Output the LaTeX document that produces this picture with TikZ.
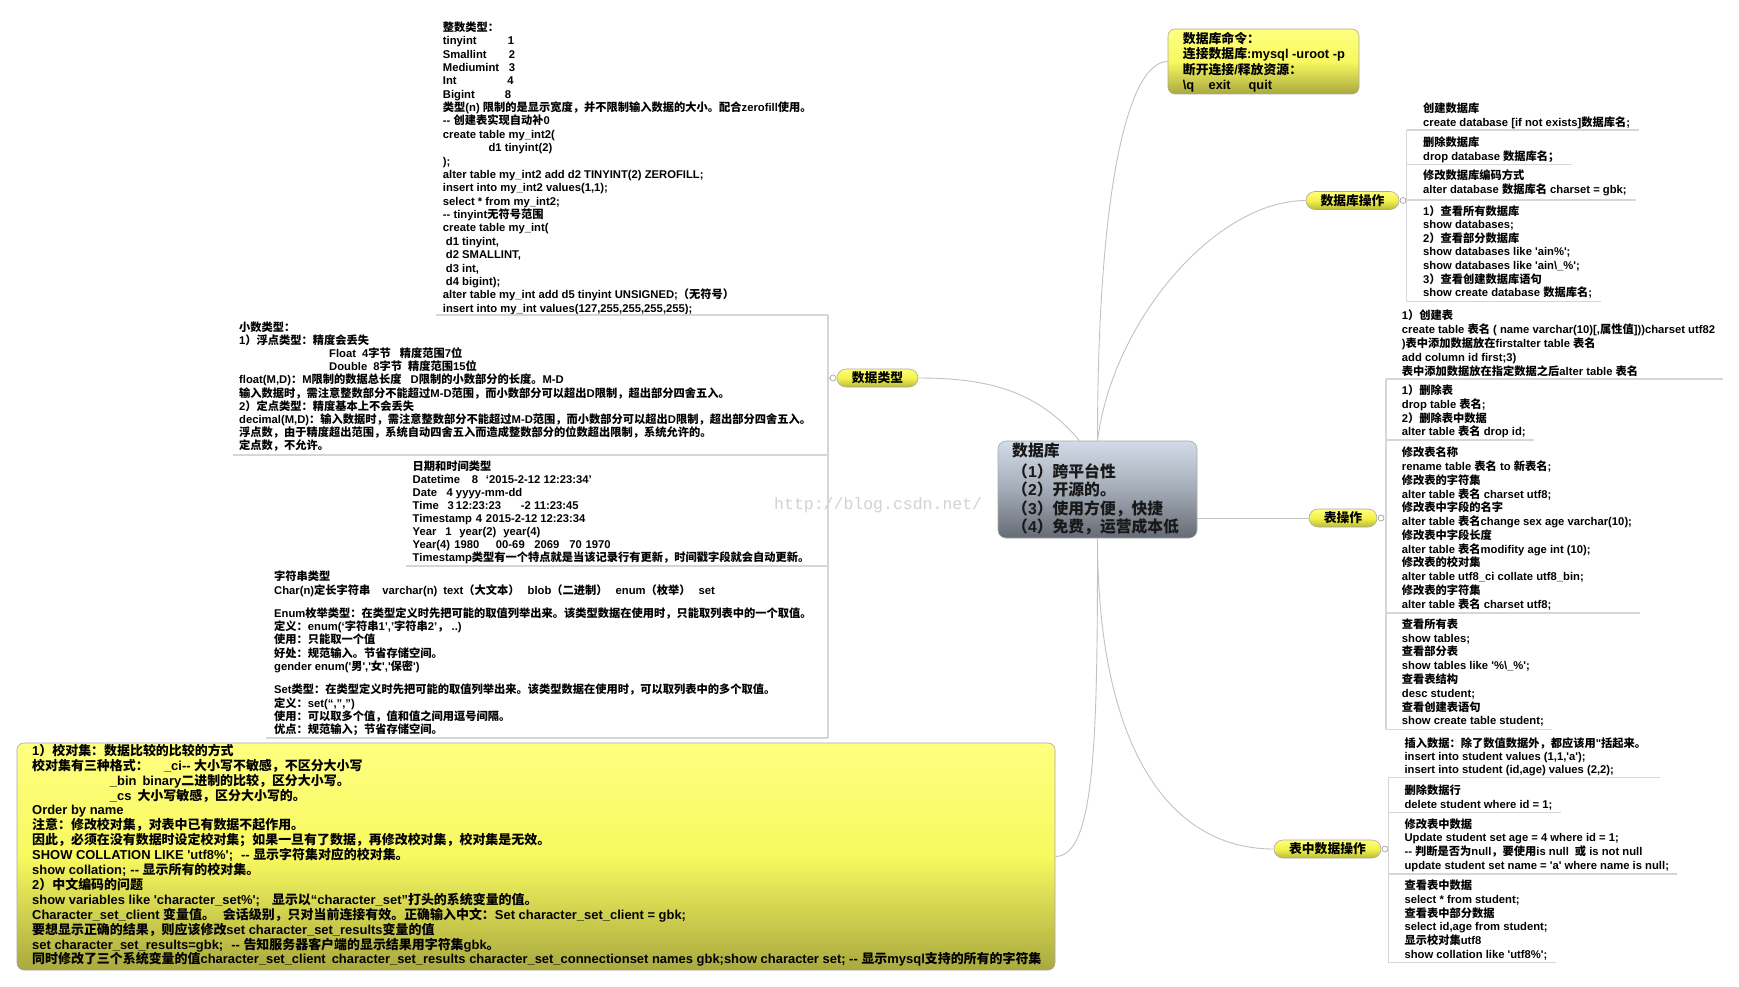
\documentclass[tikz,border=0pt]{standalone}
\usepackage{fontspec}
\setmainfont{Liberation Sans}[Ligatures=TeXOff]
\newfontfamily\cjkfont{Noto Sans CJK SC}
\newfontfamily\wmfont{Liberation Mono}
\XeTeXinterchartokenstate=1
\newXeTeXintercharclass\CJKcls
\newcount\cjkc
\cjkc="4E00 \loop \XeTeXcharclass\cjkc=\CJKcls \advance\cjkc by 1 \ifnum\cjkc<"A000 \repeat
\cjkc="3000 \loop \XeTeXcharclass\cjkc=\CJKcls \advance\cjkc by 1 \ifnum\cjkc<"3040 \repeat
\cjkc="FF00 \loop \XeTeXcharclass\cjkc=\CJKcls \advance\cjkc by 1 \ifnum\cjkc<"FFF0 \repeat
\XeTeXinterchartoks 0 \CJKcls = {\begingroup\cjkfont}
\XeTeXinterchartoks 4095 \CJKcls = {\begingroup\cjkfont}
\XeTeXinterchartoks \CJKcls 0 = {\endgroup}
\XeTeXinterchartoks \CJKcls 4095 = {\endgroup}
\newcommand\lns[1]{\vtop{\halign{##\hfil\cr#1\crcr}}}
\newcommand\tb[2]{\rlap{\hspace*{#1}#2}}
\newcommand\gap[1]{\noalign{\vskip#1}}
\newcommand\bsl{\textbackslash}
\definecolor{connGray}{HTML}{C2C2C2}
\definecolor{ulGray}{HTML}{D6D6D6}
\definecolor{pillTop}{HTML}{FFFF78}
\definecolor{pillMid}{HTML}{F2F24E}
\definecolor{pillBot}{HTML}{BBBB35}
\definecolor{boxTop}{HTML}{FFFF80}
\definecolor{boxMid}{HTML}{F8F860}
\definecolor{boxBot}{HTML}{A9A93F}
\definecolor{cenTop}{HTML}{D2DCE8}
\definecolor{cenMid}{HTML}{A3ABB6}
\definecolor{cenBot}{HTML}{656B75}
\definecolor{edgeGray}{HTML}{A8A8A8}
\definecolor{wmGray}{HTML}{D2D2D2}
\tikzset{
  blk/.style={anchor=base west, inner sep=0pt, text=black},
  f11/.style={font=\fontsize{11.25}{#1}\selectfont\bfseries},
  pill/.style={draw=edgeGray, line width=0.6pt, rounded corners=9pt,
    top color=pillTop, bottom color=pillBot, middle color=pillMid,
    minimum height=18pt, inner sep=0pt, text=black,
    font=\fontsize{12.8}{14}\selectfont\bfseries},
  ybox/.style={draw=edgeGray, line width=0.6pt, rounded corners=7pt,
    top color=boxTop, bottom color=boxBot, middle color=boxMid, inner sep=0pt},
  dotc/.style={circle, draw=gray!80, fill=white, line width=0.6pt, minimum size=6pt, inner sep=0pt},
  conn/.style={draw=connGray, line width=0.9pt},
  uline/.style={draw=ulGray, line width=1.3pt},
}
\begin{document}
\begin{tikzpicture}[x=1pt,y=-1pt]
\useasboundingbox (0,0) rectangle (1739,987);
\fill[white] (0,0) rectangle (1739,987);

% ---------- central node ----------
\node[draw=edgeGray, line width=0.6pt, rounded corners=8pt, top color=cenTop, bottom color=cenBot, middle color=cenMid,
  minimum width=199pt, minimum height=97pt, inner sep=0pt] (db) at (1097.5,489.5) {};
\node[blk, font=\fontsize{15.8}{18.3}\selectfont\bfseries, text=black!90] (dbTxt) at (1012,456.6)
 {\lns{数据库\cr\gap{2.7pt}（1）跨平台性\cr（2）开源的。\cr（3）使用方便，快捷\cr（4）免费，运营成本低}};

% ---------- watermark ----------
\node[anchor=base west, inner sep=0pt, text=wmGray, font=\fontsize{16.5}{18}\wmfont] (wm) at (774,509) {http://blog.csdn.net/};

% ---------- labels ----------
\node[pill, minimum width=81pt] (typeLbl) at (877.5,378) {数据类型};
\node[pill, minimum width=93pt] (dbopsLbl) at (1352.5,200.5) {数据库操作};
\node[pill, minimum width=68pt] (tblLbl) at (1343,518) {表操作};
\node[pill, minimum width=107pt] (dataLbl) at (1327.5,849) {表中数据操作};
\node[dotc] (typeDot) at (833,378) {};
\node[dotc] (dbopsDot) at (1403,200.5) {};
\node[dotc] (tblDot) at (1381,518) {};
\node[dotc] (dataDot) at (1385,849) {};

% ---------- command box ----------
\node[ybox, minimum width=191pt, minimum height=65pt] (cmdBox) at (1263.5,61.5) {};
\node[blk, font=\fontsize{12.85}{15.6}\selectfont\bfseries] (cmdTxt) at (1182.7,43.1)
 {\lns{数据库命令：\cr 连接数据库:mysql -uroot -p\cr 断开连接/释放资源：\cr\tb{0pt}{\bsl q}\tb{25.7pt}{exit}\tb{65.7pt}{quit}}};

% ---------- collation box ----------
\node[ybox, minimum width=1038pt, minimum height=227pt] (collBox) at (536,856.5) {};
\node[blk, font=\fontsize{12.95}{14.9}\selectfont\bfseries] (collTxt) at (32,755.3)
 {\lns{1）校对集：数据比较的比较的方式\cr
 \tb{0pt}{校对集有三种格式：}\tb{131.8pt}{\_ci-- 大小写不敏感，不区分大小写}\cr
 \tb{77.7pt}{\_bin\hspace{6pt}binary二进制的比较，区分大小写。}\cr
 \tb{77.7pt}{\_cs\hspace{6pt}大小写敏感，区分大小写的。}\cr
 Order by name\cr
 注意：修改校对集，对表中已有数据不起作用。\cr
 因此，必须在没有数据时设定校对集；如果一旦有了数据，再修改校对集，校对集是无效。\cr
 SHOW COLLATION LIKE 'utf8\%';\hspace{8pt}-- 显示字符集对应的校对集。\cr
 show collation;\hspace{4pt}-- 显示所有的校对集。\cr
 2）中文编码的问题\cr
 show variables like 'character\_set\%';\hspace{12pt}显示以“character\_set”打头的系统变量的值。\cr
 Character\_set\_client 变量值。\hspace{8pt}会话级别，只对当前连接有效。正确输入中文：Set character\_set\_client = gbk;\cr
 要想显示正确的结果，则应该修改set character\_set\_results变量的值\cr
 set character\_set\_results=gbk;\hspace{8pt}-- 告知服务器客户端的显示结果用字符集gbk。\cr
 同时修改了三个系统变量的值character\_set\_client\hspace{6pt}character\_set\_results character\_set\_connectionset names gbk;show character set; -- 显示mysql支持的所有的字符集}};

% ---------- data type children (left) ----------
\node[blk, f11=13.38] (intBlk) at (442.7,31.3)
 {\lns{整数类型：\cr
 \tb{0pt}{tinyint}\tb{65pt}{1}\cr
 \tb{0pt}{Smallint}\tb{66pt}{2}\cr
 \tb{0pt}{Mediumint}\tb{66pt}{3}\cr
 \tb{0pt}{Int}\tb{64.5pt}{4}\cr
 \tb{0pt}{Bigint}\tb{62pt}{8}\cr
 类型(n) 限制的是显示宽度，并不限制输入数据的大小。配合zerofill使用。\cr
 -- 创建表实现自动补0\cr
 create table my\_int2(\cr
 \hspace*{45.7pt}d1 tinyint(2)\cr
 );\cr
 alter table my\_int2 add d2 TINYINT(2) ZEROFILL;\cr
 insert into my\_int2 values(1,1);\cr
 select * from my\_int2;\cr
 -- tinyint无符号范围\cr
 create table my\_int(\cr
 \hspace*{3pt}d1 tinyint,\cr
 \hspace*{3pt}d2 SMALLINT,\cr
 \hspace*{3pt}d3 int,\cr
 \hspace*{3pt}d4 bigint);\cr
 alter table my\_int add d5 tinyint UNSIGNED;（无符号）\cr
 insert into my\_int values(127,255,255,255,255);}};

\node[blk, f11=13.2] (decBlk) at (239,331)
 {\lns{小数类型：\cr
 1）浮点类型：精度会丢失\cr
 \hspace*{90pt}Float\hspace{6pt}4字节\hspace{9pt}精度范围7位\cr
 \hspace*{90pt}Double\hspace{6pt}8字节\hspace{6pt}精度范围15位\cr
 float(M,D)：M限制的数据总长度\hspace{9pt}D限制的小数部分的长度。M-D\cr
 输入数据时，需注意整数部分不能超过M-D范围，而小数部分可以超出D限制，超出部分四舍五入。\cr
 2）定点类型：精度基本上不会丢失\cr
 decimal(M,D)：输入数据时，需注意整数部分不能超过M-D范围，而小数部分可以超出D限制，超出部分四舍五入。\cr
 浮点数，由于精度超出范围，系统自动四舍五入而造成整数部分的位数超出限制，系统允许的。\cr
 定点数，不允许。}};

\node[blk, f11=13.0] (dateBlk) at (412.5,470.7)
 {\lns{日期和时间类型\cr
 \tb{0pt}{Datetime}\tb{59.3pt}{8}\tb{73.3pt}{‘2015-2-12 12:23:34’}\cr
 \tb{0pt}{Date}\tb{34pt}{4}\tb{43.3pt}{yyyy-mm-dd}\cr
 \tb{0pt}{Time}\tb{35pt}{3}\tb{43.3pt}{12:23:23}\tb{108.3pt}{-2 11:23:45}\cr
 \tb{0pt}{Timestamp}\tb{63.3pt}{4}\tb{73.3pt}{2015-2-12 12:23:34}\cr
 \tb{0pt}{Year}\tb{32.7pt}{1}\tb{46.7pt}{year(2)}\tb{90.7pt}{year(4)}\cr
 \tb{0pt}{Year(4)}\tb{41.7pt}{1980}\tb{83.3pt}{00-69}\tb{121.7pt}{2069}\tb{156.7pt}{70}\tb{173pt}{1970}\cr
 Timestamp类型有一个特点就是当该记录行有更新，时间戳字段就会自动更新。}};

\node[blk, f11=13.3] (strBlk) at (274,580.7)
 {\lns{字符串类型\cr
 Char(n)定长字符串\hspace{12pt}varchar(n)\hspace{6pt}text（大文本）\hspace{8pt}blob（二进制）\hspace{8pt}enum（枚举）\hspace{8pt}set\cr\gap{10pt}
 Enum枚举类型：在类型定义时先把可能的取值列举出来。该类型数据在使用时，只能取列表中的一个取值。\cr
 定义：enum(‘字符串1’,’字符串2’， ..)\cr
 使用：只能取一个值\cr
 好处：规范输入。节省存储空间。\cr
 gender enum('男','女','保密')\cr\gap{10pt}
 Set类型：在类型定义时先把可能的取值列举出来。该类型数据在使用时，可以取列表中的多个取值。\cr
 定义：set(“,”,”)\cr
 使用：可以取多个值，值和值之间用逗号间隔。\cr
 优点：规范输入；节省存储空间。}};

% ---------- database operations (right) ----------
\node[blk, f11=14] (dbA) at (1423,112.3) {\lns{创建数据库\cr create database [if not exists]数据库名;}};
\node[blk, f11=14] (dbB) at (1423,146.3) {\lns{删除数据库\cr drop database 数据库名；}};
\node[blk, f11=14] (dbC) at (1423,179.7) {\lns{修改数据库编码方式\cr alter database 数据库名 charset = gbk;}};
\node[blk, f11=13.6] (dbD) at (1423,215)
 {\lns{1）查看所有数据库\cr show databases;\cr 2）查看部分数据库\cr show databases like 'ain\%';\cr
 show databases like 'ain\bsl\_\%';\cr 3）查看创建数据库语句\cr show create database 数据库名;}};

% ---------- table operations ----------
\node[blk, f11=14] (tbA) at (1401.7,319)
 {\lns{1）创建表\cr create table 表名 ( name varchar(10)[,属性值]))charset utf82\cr
 )表中添加数据放在firstalter table 表名\cr add column id first;3)\cr 表中添加数据放在指定数据之后alter table 表名}};
\node[blk, f11=13.7] (tbB) at (1401.7,394.7)
 {\lns{1）删除表\cr drop table 表名;\cr 2）删除表中数据\cr alter table 表名 drop id;}};
\node[blk, f11=13.78] (tbC) at (1401.7,456.7)
 {\lns{修改表名称\cr rename table 表名 to 新表名;\cr 修改表的字符集\cr alter table 表名 charset utf8;\cr
 修改表中字段的名字\cr alter table 表名change sex age varchar(10);\cr 修改表中字段长度\cr
 alter table 表名modifity age int (10);\cr 修改表的校对集\cr alter table utf8\_ci collate utf8\_bin;\cr
 修改表的字符集\cr alter table 表名 charset utf8;}};
\node[blk, f11=13.8] (tbD) at (1401.7,628.3)
 {\lns{查看所有表\cr show tables;\cr 查看部分表\cr show tables like '\%\bsl\_\%';\cr 查看表结构\cr
 desc student;\cr 查看创建表语句\cr show create table student;}};

% ---------- data operations ----------
\node[blk, f11=13] (daA) at (1404.3,747.3)
 {\lns{插入数据：除了数值数据外，都应该用"括起来。\cr insert into student values (1,1,'a');\cr
 insert into student (id,age) values (2,2);}};
\node[blk, f11=13.6] (daB) at (1404.3,794.7) {\lns{删除数据行\cr delete student where id = 1;}};
\node[blk, f11=13.7] (daC) at (1404.3,828)
 {\lns{修改表中数据\cr Update student set age = 4 where id = 1;\cr
 -- 判断是否为null，要使用is null\hspace{6pt}或 is not null\cr
 update student set name = 'a' where name is null;}};
\node[blk, f11=13.7] (daD) at (1404.3,889.7)
 {\lns{查看表中数据\cr select * from student;\cr 查看表中部分数据\cr select id,age from student;\cr
 显示校对集utf8\cr show collation like 'utf8\%';}};

% ---------- brackets and underlines ----------
% left
\coordinate (lT) at (828,315);
\coordinate (lB) at (828,738);
\coordinate (lD) at (828,455);
\coordinate (lE) at (828,566);
\draw[uline] (lT) -- (lB);
\draw[uline] (lT) -- ([xshift=-7pt]lT -| intBlk.west);
\draw[uline] (lD) -- ([xshift=-6pt]lD -| decBlk.west);
\draw[uline] (lE) -- ([xshift=-7pt]lE -| dateBlk.west);
\draw[uline] (lB) -- ([xshift=-8pt]lB -| strBlk.west);
\draw[conn] (typeDot) -- (typeDot -| lT);
% db ops
\coordinate (r1a) at (1406.7,130);
\coordinate (r1b) at (1406.7,164.3);
\coordinate (r1c) at (1406.7,200);
\coordinate (r1d) at (1406.7,301.7);
\draw[uline] (r1a) -- (r1d);
\draw[uline] (r1a) -- ([xshift=9pt]r1a -| dbA.east);
\draw[uline] (r1b) -- ([xshift=12pt]r1b -| dbB.east);
\draw[uline] (r1c) -- ([xshift=9pt]r1c -| dbC.east);
\draw[uline] (r1d) -- ([xshift=9pt]r1d -| dbD.east);
% table ops
\coordinate (r2a) at (1386,379);
\coordinate (r2b) at (1386,440);
\coordinate (r2c) at (1386,613);
\coordinate (r2d) at (1386,729.3);
\draw[uline] (r2a) -- (r2d);
\draw[uline] (r2a) -- ([xshift=8pt]r2a -| tbA.east);
\draw[uline] (r2b) -- ([xshift=8pt]r2b -| tbB.east);
\draw[uline] (r2c) -- ([xshift=8pt]r2c -| tbC.east);
\draw[uline] (r2d) -- ([xshift=8pt]r2d -| tbD.east);
% data ops
\coordinate (r3a) at (1388.3,777.3);
\coordinate (r3b) at (1388.3,812.7);
\coordinate (r3c) at (1388.3,874);
\coordinate (r3d) at (1388.3,962.7);
\draw[uline] (r3a) -- (r3d);
\draw[uline] (r3a) -- ([xshift=14pt]r3a -| daA.east);
\draw[uline] (r3b) -- ([xshift=8pt]r3b -| daB.east);
\draw[uline] (r3c) -- ([xshift=8pt]r3c -| daC.east);
\draw[uline] (r3d) -- ([xshift=8pt]r3d -| daD.east);

% ---------- connectors ----------
\draw[conn] (typeLbl.east) .. controls +(70,0) and +(-42,-50) .. ([xshift=-18pt]db.north);
\draw[conn] (db.north) .. controls +(0,-250) and +(-40,0) .. (cmdBox.west);
\draw[conn] (db.north) .. controls +(15,-120) and +(-90,0) .. (dbopsLbl.west);
\draw[conn] (db.east |- tblLbl.west) -- (tblLbl.west);
\draw[conn] (db.south) .. controls +(0,200) and +(-110,0) .. (dataLbl.west);
\draw[conn] (db.south) .. controls +(0,200) and +(40,0) .. (collBox.east);
\end{tikzpicture}
\end{document}
